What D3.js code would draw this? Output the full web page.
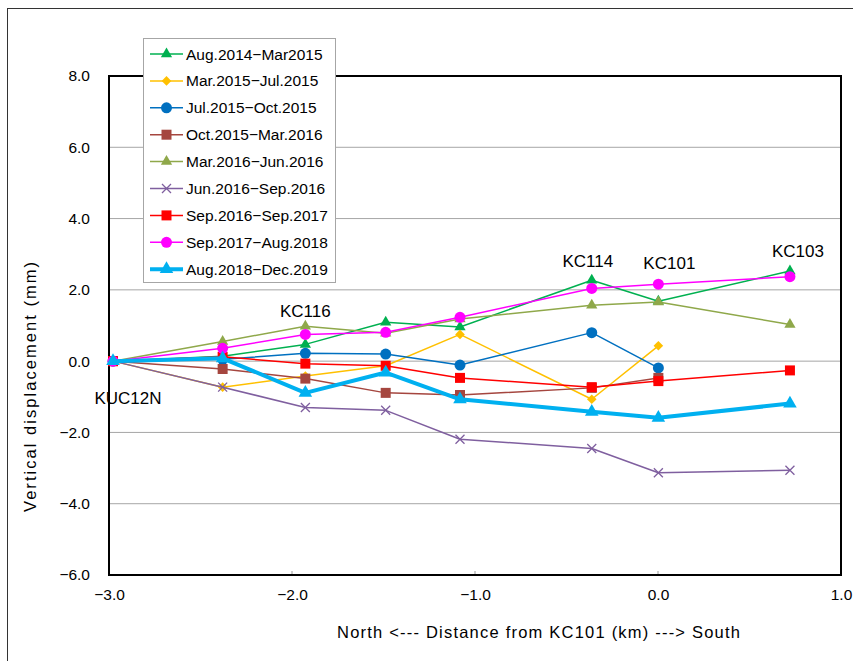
<!DOCTYPE html>
<html>
<head>
<meta charset="utf-8">
<script src="https://cdn.jsdelivr.net/npm/d3@7"></script>
<style>
  html, body { margin: 0; padding: 0; background: #fff; }
  svg { display: block; }
  text { font-family: "Liberation Sans", Arial, sans-serif; fill: #000; }
</style>
</head>
<body>
<svg id="chart" width="853" height="661"></svg>
<script>
// Survey points along the line, distance from KC101 (km)
const distances = [-2.978, -2.379, -1.927, -1.488, -1.082, -0.362, 0.002, 0.721];

// Benchmark names shown next to their points
const stationNames = ["KUC12N", "KC116", "KC114", "KC101", "KC103"];
const stationIndex = [0, 2, 5, 6, 7];

// Survey periods (legend entries)
const periods = [
  "Aug.2014\u2212Mar2015",
  "Mar.2015\u2212Jul.2015",
  "Jul.2015\u2212Oct.2015",
  "Oct.2015\u2212Mar.2016",
  "Mar.2016\u2212Jun.2016",
  "Jun.2016\u2212Sep.2016",
  "Sep.2016\u2212Sep.2017",
  "Sep.2017\u2212Aug.2018",
  "Aug.2018\u2212Dec.2019"
];

// Vertical displacement (mm) for each period at each point; null = not surveyed
const disp2014 = [0, 0.14, 0.47, 1.09, 0.96, 2.27, 1.68, 2.53];
const disp2015a = [0, -0.73, -0.42, -0.13, 0.75, -1.07, 0.43, null];
const disp2015b = [0, 0.05, 0.22, 0.20, -0.11, 0.80, -0.19, null];
const disp2015c = [0, -0.22, -0.49, -0.89, -0.95, -0.75, -0.47, null];
const disp2016a = [0, 0.55, 0.98, 0.78, 1.18, 1.57, 1.66, 1.03];
const disp2016b = [0, -0.73, -1.30, -1.38, -2.19, -2.45, -3.13, -3.06];
const disp2017 = [0, 0.12, -0.07, -0.13, -0.47, -0.73, -0.56, -0.26];
const disp2018 = [0, 0.36, 0.75, 0.81, 1.23, 2.04, 2.16, 2.37];
const disp2019 = [0, 0.08, -0.89, -0.32, -1.07, -1.42, -1.59, -1.19];

const seriesValues = [disp2014, disp2015a, disp2015b, disp2015c, disp2016a, disp2016b, disp2017, disp2018, disp2019];

const colors = ["#00b050", "#ffc000", "#0070c0", "#a5463f", "#8fa84a", "#7f5f9f", "#ff0000", "#ff00ff", "#00b0f0"];
const markers = ["triangle", "diamond", "circle", "square", "triangle", "cross", "square", "circle", "triangle"];
const lineWidths = [1.5, 1.5, 1.5, 1.5, 1.5, 1.5, 1.5, 1.5, 4];

// Axis ticks
const yTicks = [-6, -4, -2, 0, 2, 4, 6, 8];
const xTicks = [-3, -2, -1, 0, 1];

const svg = d3.select("#chart");
const W = 853, H = 661;
const plot = { left: 109, right: 841, top: 76, bottom: 575 };

const x = d3.scaleLinear().domain([-3, 1]).range([plot.left, plot.right]);
const y = d3.scaleLinear().domain([-6, 8]).range([plot.bottom, plot.top]);

const fmt = v => (v < 0 ? "\u2212" : "") + Math.abs(v).toFixed(1);

// Outer chart frame
svg.append("rect")
  .attr("x", 7.5).attr("y", 8.5).attr("width", W).attr("height", H)
  .attr("fill", "none").attr("stroke", "#333").attr("stroke-width", 1);

// Horizontal gridlines
svg.append("g")
  .selectAll("line").data(yTicks.filter(t => t > -6 && t < 8)).join("line")
  .attr("x1", plot.left).attr("x2", plot.right)
  .attr("y1", d => y(d)).attr("y2", d => y(d))
  .attr("stroke", "#a6a6a6").attr("stroke-width", 1);

// Y axis
const yAxis = d3.axisLeft(y).tickValues(yTicks).tickFormat(fmt).tickSize(0).tickPadding(19);
const gy = svg.append("g").attr("transform", `translate(${plot.left},0)`).call(yAxis);
gy.select(".domain").remove();
gy.selectAll("text").attr("font-size", 15.5).attr("font-family", "Liberation Sans, Arial, sans-serif").attr("fill", "#000");

// X axis
const xAxis = d3.axisBottom(x).tickValues(xTicks).tickFormat(fmt).tickSize(0).tickPadding(14);
const gx = svg.append("g").attr("transform", `translate(0,${plot.bottom})`).call(xAxis);
gx.select(".domain").remove();
gx.selectAll("text").attr("font-size", 15.5).attr("font-family", "Liberation Sans, Arial, sans-serif").attr("fill", "#000");

// Small inside tick marks on the x axis
svg.append("g")
  .selectAll("line").data(xTicks.slice(1, -1)).join("line")
  .attr("x1", d => x(d)).attr("x2", d => x(d))
  .attr("y1", plot.bottom).attr("y2", plot.bottom - 4)
  .attr("stroke", "#999").attr("stroke-width", 1);

// Plot frame
svg.append("rect")
  .attr("x", plot.left).attr("y", plot.top)
  .attr("width", plot.right - plot.left).attr("height", plot.bottom - plot.top)
  .attr("fill", "none").attr("stroke", "#000").attr("stroke-width", 2);

// Marker path generator
function markerPath(type, big) {
  const s = big ? 1.45 : 1;
  switch (type) {
    case "triangle": return d3.symbol(d3.symbolTriangle, 55 * s)();
    case "diamond": return "M0,-4.8L4.8,0L0,4.8L-4.8,0Z";
    case "circle": return d3.symbol(d3.symbolCircle, 95 * s)();
    case "square": return d3.symbol(d3.symbolSquare, 100 * s)();
    case "cross": return "M-4.5,-4.5L4.5,4.5M-4.5,4.5L4.5,-4.5";
  }
}

const line = d3.line()
  .defined(d => d.v !== null)
  .x(d => x(d.d)).y(d => y(d.v));

const seriesG = svg.append("g");
seriesValues.forEach((vals, i) => {
  const pts = vals.map((v, j) => ({ d: distances[j], v }));
  const g = seriesG.append("g");
  g.append("path")
    .datum(pts)
    .attr("d", line)
    .attr("fill", "none")
    .attr("stroke", colors[i])
    .attr("stroke-width", lineWidths[i])
    .attr("stroke-linejoin", "round");
  g.selectAll("path.m").data(pts.filter(p => p.v !== null)).join("path")
    .attr("class", "m")
    .attr("transform", p => `translate(${x(p.d)},${y(p.v)})`)
    .attr("d", markerPath(markers[i], i === 8))
    .attr("fill", markers[i] === "cross" ? "none" : colors[i])
    .attr("stroke", colors[i])
    .attr("stroke-width", markers[i] === "cross" ? 1.3 : 0);
});

// Station labels: offset from the highest point at that station (KUC12N and KC116 from zero)
const labelOffsets = {
  "KUC12N": [ 15, 43 ],
  "KC116": [ 0, -44 ],
  "KC114": [ -4, -13 ],
  "KC101": [ 11, -15 ],
  "KC103": [ 8, -14 ]
};
stationNames.forEach((name, k) => {
  const j = stationIndex[k];
  const maxV = d3.max(seriesValues, s => s[j] === null ? -Infinity : s[j]);
  const fromZero = name === "KUC12N" || name === "KC116";
  const baseY = fromZero ? y(0) : y(maxV);
  const off = labelOffsets[name];
  svg.append("text")
    .attr("x", x(distances[j]) + off[0])
    .attr("y", baseY + off[1])
    .attr("text-anchor", "middle")
    .attr("font-size", 17)
    .text(name);
});

// Axis titles
svg.append("text")
  .attr("x", 337).attr("y", 638)
  .attr("font-size", 16.5)
  .attr("textLength", 403)
  .attr("lengthAdjust", "spacing")
  .text("North <--- Distance from KC101 (km) ---> South");

svg.append("text")
  .attr("transform", `translate(36,512) rotate(-90)`)
  .attr("font-size", 16.5)
  .attr("textLength", 250)
  .attr("lengthAdjust", "spacing")
  .text("Vertical displacement (mm)");

// Legend
const legend = svg.append("g");
legend.append("rect")
  .attr("x", 143.5).attr("y", 38.5).attr("width", 192).attr("height", 244)
  .attr("fill", "#fff").attr("stroke", "#a6a6a6").attr("stroke-width", 1);
periods.forEach((p, i) => {
  const cy = 54 + i * 26.9;
  const row = legend.append("g");
  row.append("line")
    .attr("x1", 150).attr("x2", 183).attr("y1", cy).attr("y2", cy)
    .attr("stroke", colors[i]).attr("stroke-width", lineWidths[i]);
  row.append("path")
    .attr("transform", `translate(166.5,${cy})`)
    .attr("d", markerPath(markers[i], i === 8))
    .attr("fill", markers[i] === "cross" ? "none" : colors[i])
    .attr("stroke", colors[i])
    .attr("stroke-width", markers[i] === "cross" ? 1.3 : 0);
  row.append("text")
    .attr("x", 186).attr("y", cy + 5.5)
    .attr("font-size", 15.5)
    .text(p);
});
</script>
</body>
</html>
